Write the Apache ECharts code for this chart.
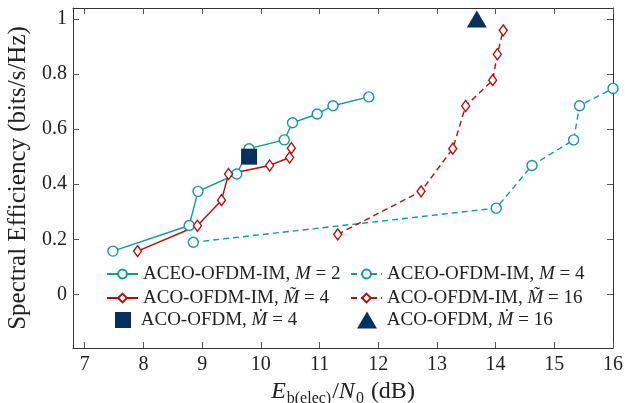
<!DOCTYPE html>
<html><head><meta charset="utf-8">
<script src="https://cdn.jsdelivr.net/npm/echarts@6/dist/echarts.min.js"></script>
<style>html,body{margin:0;padding:0;background:#fff}#c{width:625px;height:403px}</style>
</head><body><div id="c"></div>
<script>
// ---- data ----
const xTicks = [7, 8, 9, 10, 11, 12, 13, 14, 15, 16];
const yTicks = [0, 0.2, 0.4, 0.6, 0.8, 1];
const aceoM2 = [[7.48,0.157],[8.78,0.25],[8.93,0.374],[9.59,0.437],[9.80,0.529],[10.40,0.561],[10.54,0.623],[10.96,0.655],[11.23,0.685],[11.84,0.717]];
const acoM4 = [[7.90,0.157],[8.92,0.249],[9.33,0.342],[9.45,0.437],[10.15,0.468],[10.49,0.497],[10.52,0.531]];
const aceoM4 = [[8.85,0.189],[14.01,0.313],[14.62,0.468],[15.33,0.561],[15.43,0.685],[16.0,0.748]];
const acoM16 = [[11.31,0.218],[12.73,0.374],[13.27,0.529],[13.49,0.684],[13.95,0.778],[14.03,0.872],[14.13,0.959]];
const acoOfdm4 = [[9.80,0.5]];
const acoOfdm16 = [[13.68,1.0]];
const names = ['ACEO-OFDM-IM, M2','ACO-OFDM-IM, M4','ACO-OFDM, D4','ACEO-OFDM-IM, M4','ACO-OFDM-IM, M16','ACO-OFDM, D16'];
const legendText = {
  'ACEO-OFDM-IM, M2': 'ACEO-OFDM-IM, {i|M} = 2',
  'ACO-OFDM-IM, M4': 'ACO-OFDM-IM, {i|M\u0303} = 4',
  'ACO-OFDM, D4': ' ACO-OFDM, {i|\u1E40} = 4',
  'ACEO-OFDM-IM, M4': 'ACEO-OFDM-IM, {i|M} = 4',
  'ACO-OFDM-IM, M16': 'ACO-OFDM-IM, {i|M\u0303} = 16',
  'ACO-OFDM, D16': ' ACO-OFDM, {i|\u1E40} = 16'
};
// ---- style ----
const TEAL = '#0f9a9a', RED = '#b30f0f', NAVY = '#06315f';
const FONT = 'Liberation Serif';
const xmin = 6.8, xmax = 16, ymin = -0.195, ymax = 1.04;
const chart = echarts.init(document.getElementById('c'), null, {renderer:'canvas'});
const axisLine = {show:true, onZero:false, lineStyle:{color:'#333', width:1}};
const legendCommon = {
  orient:'vertical', itemGap: 4, itemWidth: 31, itemHeight: 11,
  textStyle:{fontFamily:FONT, fontSize:19, color:'#222', lineHeight:20,
    rich:{i:{fontFamily:FONT, fontStyle:'italic', fontSize:19, color:'#222', lineHeight:20}}},
  formatter: n => legendText[n]
};
function lineSeries(name, data, color, symbol, size, dashed){
  return {name, type:'line', data, symbol, symbolSize:size, showSymbol:true,
    lineStyle:{color, width:1.4, type: dashed ? [6,4] : 'solid'},
    itemStyle:{color:'#fff', borderColor:color, borderWidth:1.4},
    emphasis:{disabled:true}, animation:false, z:3};
}
chart.setOption({
  animation:false,
  grid:{left:73, right:12, top:8, bottom:55, containLabel:false, outerBoundsMode:'none'},
  xAxis:[{type:'value', min:xmin, max:xmax, position:'bottom',
    name:'{i|E}{s|b(elec)}{n|/}{i|N}{s|0}{n| (dB)}', nameLocation:'middle', nameGap:26,
    nameTextStyle:{rich:{
      i:{fontFamily:FONT, fontStyle:'italic', fontSize:24, color:'#222'},
      n:{fontFamily:FONT, fontSize:24, color:'#222'},
      s:{fontFamily:FONT, fontSize:16, color:'#222', verticalAlign:'bottom', padding:[14,1,0,1]}}},
    axisLine, splitLine:{show:false},
    axisTick:{show:true, inside:true, length:6, customValues:xTicks, lineStyle:{color:'#555'}},
    axisLabel:{customValues:xTicks, fontFamily:FONT, fontSize:20, color:'#222', margin:7}},
   {type:'value', min:xmin, max:xmax, position:'top', axisLine, splitLine:{show:false},
    axisTick:{show:true, inside:true, length:6, customValues:xTicks, lineStyle:{color:'#555'}},
    axisLabel:{show:false}}],
  yAxis:[{type:'value', min:ymin, max:ymax, position:'left',
    name:'Spectral Efficiency (bits/s/Hz)', nameLocation:'middle', nameGap:38, nameRotate:90,
    nameTextStyle:{fontFamily:FONT, fontSize:25, color:'#222'},
    axisLine, splitLine:{show:false},
    axisTick:{show:true, inside:true, length:6, customValues:yTicks, lineStyle:{color:'#555'}},
    axisLabel:{customValues:yTicks, fontFamily:FONT, fontSize:20, color:'#222', margin:6,
      formatter: v => String(Math.round(v*10)/10)}},
   {type:'value', min:ymin, max:ymax, position:'right', axisLine, splitLine:{show:false},
    axisTick:{show:true, inside:true, length:6, customValues:yTicks, lineStyle:{color:'#555'}},
    axisLabel:{show:false}}],
  legend:[
    Object.assign({}, legendCommon, {left:101, top:259, data:[names[0],names[1]]}),
    Object.assign({}, legendCommon, {left:345, top:259, data:[names[3],names[4]]}),
    Object.assign({}, legendCommon, {left:110, top:305, itemWidth:16, itemHeight:16,
      data:[{name:names[2], icon:'path://M0,0H1V1H0Z'}]}),
    Object.assign({}, legendCommon, {left:352, top:305, itemWidth:20, itemHeight:17,
      data:[{name:names[5], icon:'path://M10,0L20,17L0,17Z'}]})
  ],
  series:[
    lineSeries(names[0], aceoM2, TEAL, 'circle', 10, false),
    lineSeries(names[1], acoM4, RED, 'diamond', [8,11], false),
    {name:names[2], type:'scatter', data:acoOfdm4, symbol:'rect', symbolSize:16,
      itemStyle:{color:NAVY, opacity:1}, z:4},
    lineSeries(names[3], aceoM4, TEAL, 'circle', 10, true),
    lineSeries(names[4], acoM16, RED, 'diamond', [8,11], true),
    {name:names[5], type:'scatter', data:acoOfdm16, symbol:'triangle', symbolSize:[20,17],
      itemStyle:{color:NAVY, opacity:1}, z:4}
  ]
});
</script></body></html>
